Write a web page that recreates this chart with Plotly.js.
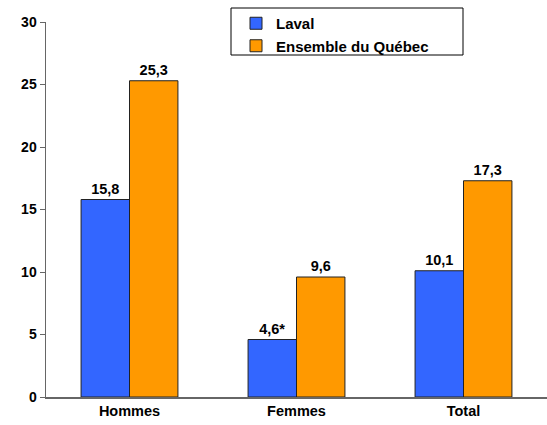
<!DOCTYPE html>
<html><head><meta charset="utf-8">
<script src="https://cdn.plot.ly/plotly-3.0.1.min.js"></script>
<style>body{margin:0;background:#fff}#c{width:547px;height:425px}</style>
</head><body><div id="c"></div>
<script>
const categories = ["Hommes", "Femmes", "Total"];
const lavalValues = [15.8, 4.6, 10.1];
const lavalLabels = ["15,8", "4,6*", "10,1"];
const quebecValues = [25.3, 9.6, 17.3];
const quebecLabels = ["25,3", "9,6", "17,3"];
const seriesNames = ["Laval", "Ensemble du Québec"];
const yTicks = [0, 5, 10, 15, 20, 25, 30];

const fam = "Liberation Sans, Arial, sans-serif";
const f = (s) => ({family: fam, size: s, color: "#000", weight: "bold"});
const mk = (y, t, name, color) => ({
  type: "bar", x: categories, y: y, name: name, text: t,
  textposition: "outside", textfont: f(14.5),
  cliponaxis: false, hoverinfo: "none",
  marker: {color: color, line: {color: "#222", width: 1}}
});
const data = [mk(lavalValues, lavalLabels, seriesNames[0], "#3366FF"),
              mk(quebecValues, quebecLabels, seriesNames[1], "#FF9900")];
const layout = {
  width: 547, height: 425, margin: {l: 46, r: 0, t: 22, b: 28},
  paper_bgcolor: "#fff", plot_bgcolor: "#fff", font: f(14),
  barmode: "group", bargap: 0.42, bargroupgap: 0, showlegend: true,
  xaxis: {range: [-0.5, 2.5], showline: true, linecolor: "#666", linewidth: 1.5, ticks: "",
          tickfont: f(14.5), showgrid: false, fixedrange: true},
  yaxis: {range: [0, 30], tickvals: yTicks, ticks: "outside", ticklen: 5, tickcolor: "#666",
          showline: true, linecolor: "#666", linewidth: 1.5, showgrid: false, zeroline: false,
          tickfont: f(14), fixedrange: true},
  legend: {x: (236-46)/501, y: (397-7)/375, xanchor: "left", yanchor: "top", bgcolor: "rgba(0,0,0,0)",
           borderwidth: 0, font: f(15), traceorder: "normal", tracegroupgap: 0},
  shapes: [{type: "rect", xref: "paper", yref: "paper", x0: (231-46)/501, x1: (463-46)/501,
            y0: (397-55)/375, y1: (397-8)/375, line: {color: "#000", width: 1}, fillcolor: "rgba(0,0,0,0)"}]
};
Plotly.newPlot("c", data, layout, {displayModeBar: false, staticPlot: true});
</script></body></html>
